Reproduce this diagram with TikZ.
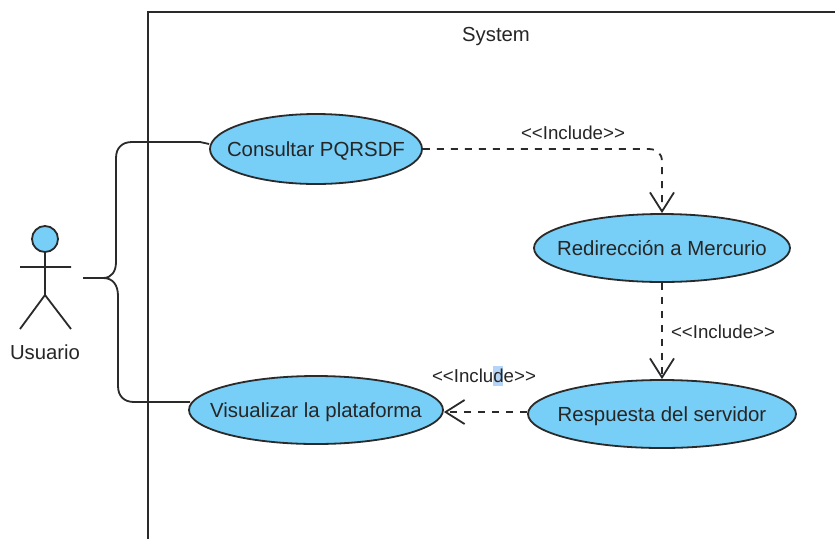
\documentclass[tikz,border=0pt]{standalone}
\usepackage{fontspec}
\setmainfont{Liberation Sans}
\usetikzlibrary{arrows.meta,shapes.geometric}
\definecolor{uc}{HTML}{77CEF6}
\definecolor{ink}{HTML}{2A2A2A}
\definecolor{hl}{HTML}{B4D5F7}
\newcommand{\uctext}[1]{\makebox[0pt][c]{#1}}
\tikzset{
 usecase/.style={ellipse,draw=ink,line width=1.8pt,fill=uc,inner sep=0pt,text height=14pt,text depth=0pt,font=\fontsize{20.4}{22}\selectfont,text=black!85},
 lbl/.style={inner sep=0pt,text height=13pt,text depth=0pt,font=\fontsize{18.7}{20}\selectfont,text=black!85},
 biglbl/.style={inner sep=0pt,text height=14pt,text depth=0pt,font=\fontsize{20.3}{22}\selectfont,text=black!85},
 solidline/.style={draw=ink,line width=1.8pt},
 incl/.style={draw=ink,line width=1.8pt,dash pattern=on 7pt off 7pt,-{Straight Barb[length=19pt,width=24pt,line width=1.8pt]}},
}
\begin{document}
\begin{tikzpicture}[x=1pt,y=-1pt]
\useasboundingbox[fill=white] (0,0) rectangle (835,539);
\draw[solidline] (148,539) -- (148,12) -- (835,12);
\node[biglbl] (sys) at (496,34) {System};
% actor
\node[circle,draw=ink,line width=1.8pt,fill=uc,minimum size=26pt,inner sep=0pt] (head) at (45,239) {};
\coordinate (hip) at (45,295);
\coordinate (armL) at (20,267);
\coordinate (armR) at (71,267);
\coordinate (legL) at (20,329);
\coordinate (legR) at (71,329);
\draw[solidline] (head.south) -- (hip) (armL) -- (armR) (legL) -- (hip) -- (legR);
\node[biglbl] (usuario) at (45,352) {Usuario};
% use cases
\node[usecase,minimum width=212pt,minimum height=70pt] (c) at (316,149) {\uctext{Consultar PQRSDF}};
\node[usecase,minimum width=256pt,minimum height=68pt] (r) at (662,248) {\uctext{Redirección a Mercurio}};
\node[usecase,minimum width=268pt,minimum height=68pt] (s) at (662,414) {\uctext{Respuesta del servidor}};
\node[usecase,minimum width=254pt,minimum height=68pt] (v) at (316,410) {\uctext{Visualizar la plataforma}};
% associations
\coordinate (start) at (83,278);
\draw[solidline] (start) -- (103,278) .. controls (112,278) and (116,271) .. (116,262) -- (116,158) .. controls (116,148) and (122,142) .. (132,142) -- (200,142) -- (c.west |- 0,144);
\draw[solidline] (103,278) .. controls (113,278) and (118,285) .. (118,296) -- (118,386) .. controls (118,396) and (124,402) .. (134,402) -- (190,402);
% includes
\draw[incl] (c.east) -- (648,149) .. controls (657,149) and (662,153) .. (662,162) -- (r.north);
\draw[incl] (r.south) -- (s.north);
\draw[incl] (s.west |- 0,412) -- (v.east |- 0,412);
% labels
\node[lbl] (l1) at (573,133) {<{}<Include>{}>};
\node[lbl] (l2) at (723,332) {<{}<Include>{}>};
\fill[hl] (493,366) rectangle (503,386);
\node[lbl] (l3) at (484,376) {<{}<Include>{}>};
\end{tikzpicture}
\end{document}
